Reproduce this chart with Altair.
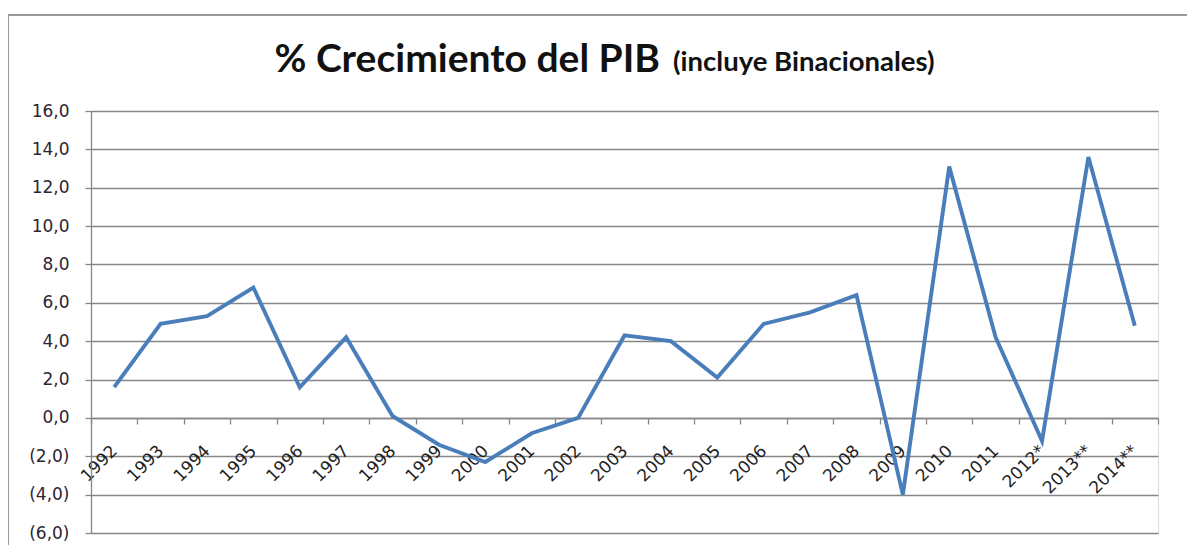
import altair as alt
import pandas as pd

years = ["1992", "1993", "1994", "1995", "1996", "1997", "1998", "1999", "2000",
         "2001", "2002", "2003", "2004", "2005", "2006", "2007", "2008", "2009",
         "2010", "2011", "2012*", "2013**", "2014**"]
growth = [1.6, 4.9, 5.3, 6.8, 1.6, 4.2, 0.1, -1.4, -2.3, -0.8, 0.0, 4.3, 4.0,
          2.1, 4.9, 5.5, 6.4, -4.0, 13.1, 4.2, -1.2, 13.6, 4.8]
y_ticks = [-6, -4, -2, 0, 2, 4, 6, 8, 10, 12, 14, 16]
title_main = "% Crecimiento del PIB"
title_sub = "(incluye Binacionales)"

df = pd.DataFrame({"year": years, "growth": growth})
one = pd.DataFrame({"k": [0]})

W, H = 1067, 422
AX = "#868686"
LBL = "DejaVu Sans"

label_expr = ("datum.value < 0 ? '(' + replace(format(abs(datum.value), '.1f'), '.', ',') + ')'"
              " : replace(format(datum.value, '.1f'), '.', ',')")

line = alt.Chart(df).mark_line(color="#4A7EBB", strokeWidth=3.9, strokeJoin="miter").encode(
    x=alt.X("year:N", sort=years, bandPosition=0.5,
            scale=alt.Scale(type="band", paddingInner=0, paddingOuter=0),
            axis=alt.Axis(title=None, orient="bottom", offset=-115, labelAngle=-45,
                          labelAlign="right", labelBaseline="middle", labelPadding=24,
                          tickBand="extent", tickSize=6, tickColor=AX, tickWidth=1.3,
                          domainColor=AX, domainWidth=1.3, grid=False,
                          labelFont=LBL, labelFontSize=17, labelColor="#1e1e1e")),
    y=alt.Y("growth:Q", scale=alt.Scale(domain=[-6, 16], nice=False, zero=False),
            axis=alt.Axis(title=None, values=y_ticks, labelExpr=label_expr,
                          grid=True, gridColor=AX, gridWidth=1.3,
                          tickSize=6, tickColor=AX, tickWidth=1.3,
                          domainColor=AX, domainWidth=1.3, labelPadding=16,
                          labelFont=LBL, labelFontSize=17, labelColor="#2d2433")),
)

frame_top = alt.Chart(one).mark_rule(stroke="#9a9a9a", strokeWidth=2).encode(
    x=alt.value(-83), x2=alt.value(1200), y=alt.value(-96)
)
frame_left = alt.Chart(one).mark_rule(stroke="#9a9a9a", strokeWidth=2).encode(
    x=alt.value(-83), y=alt.value(-96), y2=alt.value(440)
)

t_main = alt.Chart(one).mark_text(font="Lato", fontWeight="bold",
                                  fontSize=39, align="right", baseline="alphabetic",
                                  color="#111111").encode(
    x=alt.value(569), y=alt.value(-39), text=alt.value(title_main)
)
t_sub = alt.Chart(one).mark_text(font="Lato", fontWeight="bold",
                                 fontSize=27.5, align="left", baseline="alphabetic",
                                 color="#111111").encode(
    x=alt.value(582), y=alt.value(-40), text=alt.value(title_sub)
)

chart = alt.layer(frame_top, frame_left, line, t_main, t_sub).properties(
    width=W, height=H,
    autosize=alt.AutoSizeParams(type="none"),
    padding={"left": 83, "top": 103, "right": 29, "bottom": 12},
).configure_view(stroke=None).configure(background="white")

chart.save("out.html", embed_options={"renderer": "svg", "actions": False})
